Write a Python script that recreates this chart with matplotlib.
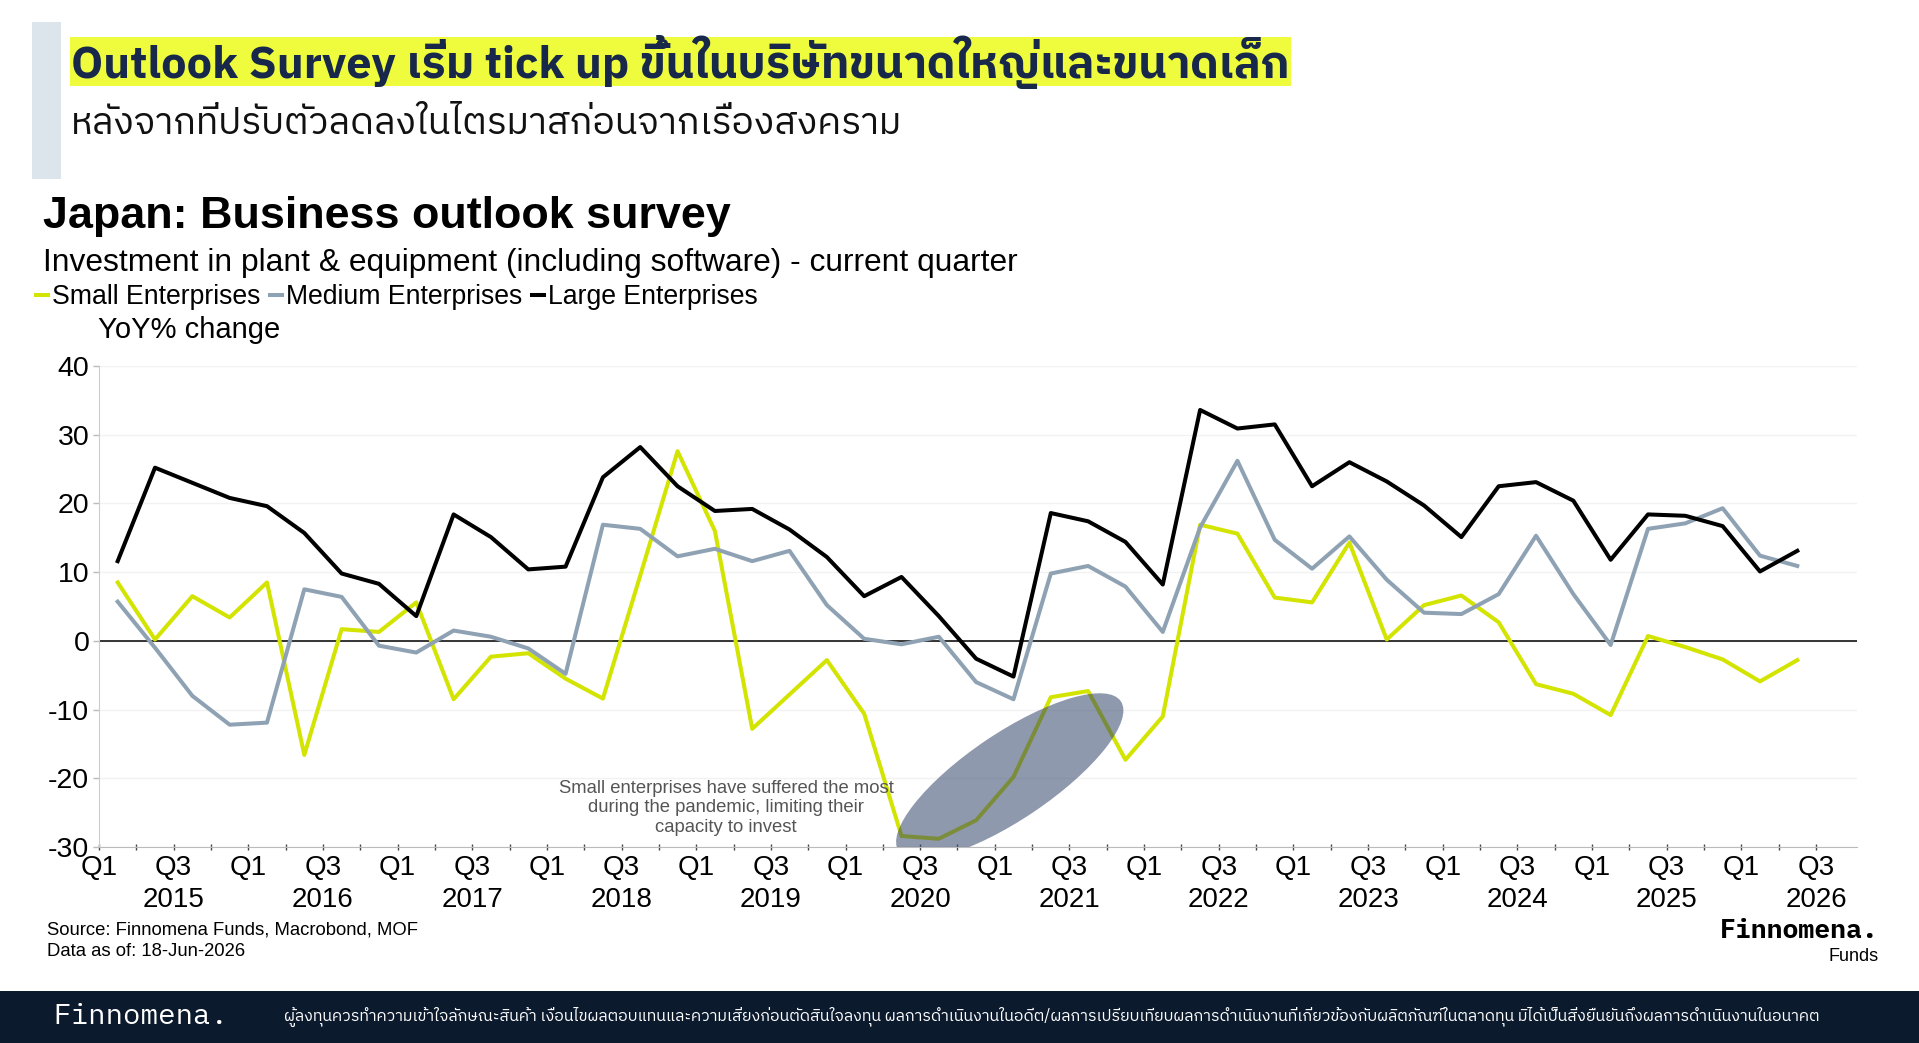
import matplotlib
matplotlib.use("Agg")
import matplotlib.pyplot as plt
from matplotlib.patches import Rectangle, Ellipse
from matplotlib import transforms

plt.rcParams["axes.unicode_minus"] = False

# quarterly YoY % change, Q1 2015 .. Q2 2026
small = [8.5, 0.2, 6.5, 3.4, 8.5, -16.6, 1.7, 1.3, 5.6, -8.5, -2.3, -1.8,
         -5.5, -8.4, 9.5, 27.6, 16.0, -12.8, -7.8, -2.8, -10.6, -28.4, -28.8, -26.1,
         -19.8, -8.2, -7.3, -17.3, -11.0, 16.9, 15.6, 6.3, 5.6, 14.3, 0.2, 5.2,
         6.6, 2.7, -6.3, -7.7, -10.8, 0.7, -0.9, -2.7, -5.9, -2.8]
medium = [5.7, -1.0, -8.0, -12.2, -11.9, 7.5, 6.4, -0.7, -1.7, 1.5, 0.6, -1.1,
          -4.8, 16.9, 16.3, 12.3, 13.4, 11.6, 13.1, 5.2, 0.3, -0.5, 0.6, -6.0,
          -8.5, 9.8, 10.9, 7.9, 1.3, 16.5, 26.2, 14.7, 10.5, 15.2, 8.9, 4.1,
          3.9, 6.8, 15.3, 6.8, -0.6, 16.3, 17.1, 19.3, 12.4, 10.9]
large = [11.6, 25.2, 23.0, 20.8, 19.6, 15.7, 9.8, 8.3, 3.6, 18.4, 15.1, 10.4,
         10.8, 23.8, 28.2, 22.5, 18.9, 19.2, 16.2, 12.2, 6.5, 9.3, 3.6, -2.6,
         -5.2, 18.6, 17.4, 14.4, 8.2, 33.6, 30.9, 31.5, 22.5, 26.0, 23.2, 19.7,
         15.1, 22.5, 23.1, 20.4, 11.8, 18.4, 18.2, 16.7, 10.1, 13.1]
years = [str(y) for y in range(2015, 2027)]
quarter_labels = ["Q1", "", "Q3", ""]

C_SMALL = "#d3e400"
C_MED = "#8fa2b4"
C_LARGE = "#000000"
NAVY = "#0c1a2e"

TH = ["IBM Plex Sans Thai", "DejaVu Sans"]
AR = ["Liberation Sans", "DejaVu Sans"]
MONO = ["IBM Plex Mono", "DejaVu Sans Mono"]

fig = plt.figure(figsize=(19.19, 10.43), dpi=100)

# header
fig.patches.append(Rectangle((0.0167, 0.8284), 0.0151, 0.1505, transform=fig.transFigure,
                             facecolor="#dde5ec", edgecolor="none"))
fig.patches.append(Rectangle((0.0365, 0.9176), 0.636, 0.047, transform=fig.transFigure,
                             facecolor="#effc3e", edgecolor="none"))
fig.text(0.0372, 0.9405, "Outlook Survey เริ่ม tick up ขึ้นในบริษัทขนาดใหญ่และขนาดเล็ก",
         family=TH, weight="bold", fontsize=32.5, color="#17284a", va="center")
fig.text(0.037, 0.881, "หลังจากที่ปรับตัวลดลงในไตรมาสก่อนจากเรื่องสงคราม",
         family=TH, weight="normal", fontsize=26.8, color="#111111", va="center")

# chart titles
fig.text(0.0224, 0.792, "Japan: Business outlook survey", family=AR, weight="bold",
         fontsize=32.3, va="center")
fig.text(0.0224, 0.748, "Investment in plant & equipment (including software) - current quarter",
         family=AR, fontsize=22.9, va="center")
fig.text(0.051, 0.6836, "YoY% change", family=AR, fontsize=21, va="center")

ax = fig.add_axes([0.0516, 0.1879, 0.9161, 0.4612])
x = [i + 0.5 for i in range(len(large))]
ax.plot(x, small, color=C_SMALL, lw=2.9, label="Small Enterprises", zorder=3)
ax.plot(x, medium, color=C_MED, lw=2.9, label="Medium Enterprises", zorder=3)
ax.plot(x, large, color=C_LARGE, lw=2.9, label="Large Enterprises", zorder=4)
ax.axhline(0, color="black", lw=1.1, zorder=2)

ax.set_xlim(0, 47.1)
ax.set_ylim(-30, 40)
ax.set_yticks(range(-30, 41, 10))
ax.set_xticks(range(0, 47))
ax.set_xticklabels([quarter_labels[i % 4] for i in range(47)])
ax.tick_params(axis="x", direction="inout", length=5, width=1, color="#444444",
               labelsize=20, pad=3)
ax.tick_params(axis="y", direction="out", length=4, width=1, color="#bbbbbb",
               labelsize=20.5, pad=3)
for lab in ax.get_xticklabels() + ax.get_yticklabels():
    lab.set_family(AR)
ax.grid(axis="y", color="#f2f2f2", lw=1)
ax.set_axisbelow(True)
for s in ["top", "right"]:
    ax.spines[s].set_visible(False)
ax.spines["left"].set_color("#cccccc")
ax.spines["bottom"].set_color("#bbbbbb")

ytrans = transforms.blended_transform_factory(ax.transData, ax.transAxes)
for k, yr in enumerate(years):
    ax.text(2 + 4 * k, -0.11, yr, transform=ytrans, ha="center", va="center",
            family=AR, fontsize=20)

# pandemic annotation
etrans = fig.dpi_scale_trans + transforms.ScaledTranslation(24.4, -19.7, ax.transData)
ax.add_patch(Ellipse((0, 0), 2.68, 0.86, angle=34, transform=etrans,
                     facecolor="#34466b", alpha=0.55, edgecolor="none", zorder=5))
ax.text(16.8, -24.3, "Small enterprises have suffered the most\nduring the pandemic, limiting their\ncapacity to invest",
        ha="center", va="center", family=AR, fontsize=13.3, color="#555555", linespacing=1.2)

fig.legend(loc="center left", bbox_to_anchor=(0.019, 0.715), ncol=3, frameon=False,
           handlelength=0.45, handletextpad=0.15, columnspacing=0.35, borderpad=0,
           borderaxespad=0, prop={"family": AR, "size": 19.2})

# source & logo
fig.text(0.0245, 0.108, "Source: Finnomena Funds, Macrobond, MOF", family=AR, fontsize=13.3, va="center")
fig.text(0.0245, 0.088, "Data as of: 18-Jun-2026", family=AR, fontsize=13.3, va="center")
fig.text(0.979, 0.108, "Finnomena.", family=MONO, weight="bold", fontsize=19,
         ha="right", va="center")
fig.text(0.979, 0.083, "Funds", family=AR, fontsize=13, ha="right", va="center")

# footer
fig.patches.append(Rectangle((0, 0), 1, 0.0499, transform=fig.transFigure,
                             facecolor=NAVY, edgecolor="none"))
fig.text(0.0276, 0.025, "Finnomena.", family=MONO, fontsize=21, color="white", va="center")
fig.text(0.148, 0.025, "ผู้ลงทุนควรทำความเข้าใจลักษณะสินค้า เงื่อนไขผลตอบแทนและความเสี่ยงก่อนตัดสินใจลงทุน "
         "ผลการดำเนินงานในอดีต/ผลการเปรียบเทียบผลการดำเนินงานที่เกี่ยวข้องกับผลิตภัณฑ์ในตลาดทุน "
         "มิได้เป็นสิ่งยืนยันถึงผลการดำเนินงานในอนาคต",
         family=TH, fontsize=11.5, color="white", va="center")

fig.savefig("out.png", dpi=100)
